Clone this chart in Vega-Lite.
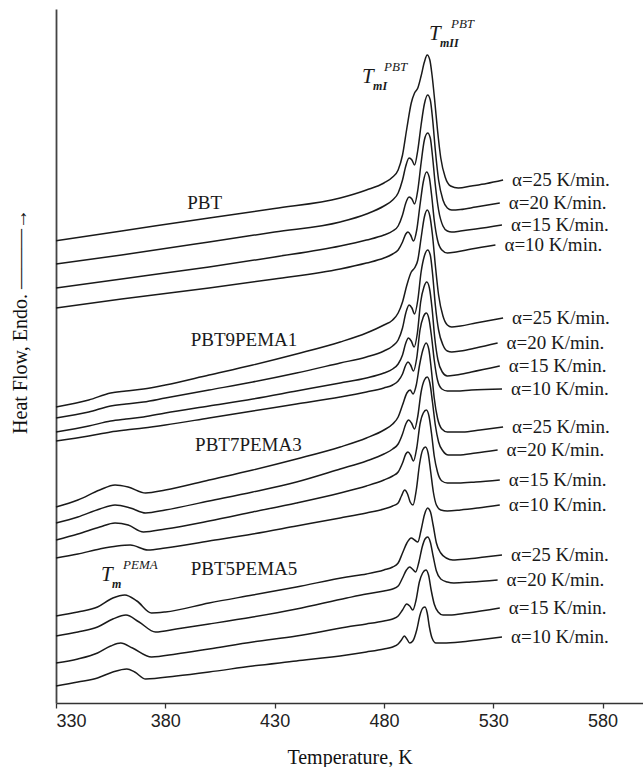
{
  "$schema": "https://vega.github.io/schema/vega-lite/v6.json",
  "width": 587,
  "height": 694,
  "autosize": "none",
  "padding": {"left": 56, "top": 9, "right": 0, "bottom": 64},
  "background": "white",
  "config": {
    "view": {"stroke": null},
    "axis": {"grid": false}
  },
  "datasets": {
    "dsc": [
      {"s":"PBT","r":25,"t":330,"hf":462.3},{"s":"PBT","r":25,"t":360,"hf":472},{"s":"PBT","r":25,"t":400,"hf":485},{"s":"PBT","r":25,"t":430,"hf":494.5},{"s":"PBT","r":25,"t":460,"hf":505},{"s":"PBT","r":25,"t":472,"hf":513},{"s":"PBT","r":25,"t":480,"hf":520},{"s":"PBT","r":25,"t":484,"hf":526},{"s":"PBT","r":25,"t":486.5,"hf":533},{"s":"PBT","r":25,"t":488.5,"hf":548},{"s":"PBT","r":25,"t":490.5,"hf":575},{"s":"PBT","r":25,"t":492.5,"hf":600},{"s":"PBT","r":25,"t":494,"hf":610},{"s":"PBT","r":25,"t":495.5,"hf":615},{"s":"PBT","r":25,"t":497,"hf":627},{"s":"PBT","r":25,"t":498.5,"hf":641},{"s":"PBT","r":25,"t":499.8,"hf":648},{"s":"PBT","r":25,"t":501,"hf":643},{"s":"PBT","r":25,"t":502,"hf":628},{"s":"PBT","r":25,"t":503.2,"hf":603},{"s":"PBT","r":25,"t":504.5,"hf":573},{"s":"PBT","r":25,"t":506,"hf":545},{"s":"PBT","r":25,"t":508,"hf":526},{"s":"PBT","r":25,"t":510.5,"hf":517},{"s":"PBT","r":25,"t":514,"hf":515},{"s":"PBT","r":25,"t":520,"hf":517},{"s":"PBT","r":25,"t":527,"hf":519.5},{"s":"PBT","r":25,"t":534.5,"hf":523},

      {"s":"PBT","r":20,"t":330,"hf":439},{"s":"PBT","r":20,"t":360,"hf":448},{"s":"PBT","r":20,"t":400,"hf":461},{"s":"PBT","r":20,"t":430,"hf":471},{"s":"PBT","r":20,"t":460,"hf":481},{"s":"PBT","r":20,"t":472,"hf":489},{"s":"PBT","r":20,"t":480,"hf":497},{"s":"PBT","r":20,"t":484,"hf":503},{"s":"PBT","r":20,"t":486.5,"hf":510},{"s":"PBT","r":20,"t":488.5,"hf":523},{"s":"PBT","r":20,"t":490,"hf":537},{"s":"PBT","r":20,"t":491.5,"hf":545},{"s":"PBT","r":20,"t":492.8,"hf":543},{"s":"PBT","r":20,"t":494,"hf":538},{"s":"PBT","r":20,"t":495.5,"hf":553},{"s":"PBT","r":20,"t":497,"hf":578},{"s":"PBT","r":20,"t":498.5,"hf":599},{"s":"PBT","r":20,"t":500,"hf":608},{"s":"PBT","r":20,"t":501.2,"hf":603},{"s":"PBT","r":20,"t":502.3,"hf":583},{"s":"PBT","r":20,"t":503.5,"hf":553},{"s":"PBT","r":20,"t":505,"hf":523},{"s":"PBT","r":20,"t":507,"hf":503},{"s":"PBT","r":20,"t":509,"hf":495},{"s":"PBT","r":20,"t":511,"hf":493},{"s":"PBT","r":20,"t":515,"hf":493.5},{"s":"PBT","r":20,"t":522,"hf":496},{"s":"PBT","r":20,"t":533,"hf":500},

      {"s":"PBT","r":15,"t":330,"hf":415},{"s":"PBT","r":15,"t":360,"hf":424},{"s":"PBT","r":15,"t":400,"hf":436},{"s":"PBT","r":15,"t":430,"hf":446},{"s":"PBT","r":15,"t":460,"hf":457},{"s":"PBT","r":15,"t":472,"hf":463},{"s":"PBT","r":15,"t":480,"hf":468},{"s":"PBT","r":15,"t":484,"hf":472},{"s":"PBT","r":15,"t":486.5,"hf":477},{"s":"PBT","r":15,"t":488.5,"hf":488},{"s":"PBT","r":15,"t":490,"hf":500},{"s":"PBT","r":15,"t":491.5,"hf":506},{"s":"PBT","r":15,"t":492.8,"hf":504},{"s":"PBT","r":15,"t":494,"hf":499},{"s":"PBT","r":15,"t":495.5,"hf":513},{"s":"PBT","r":15,"t":497,"hf":540},{"s":"PBT","r":15,"t":498.5,"hf":563},{"s":"PBT","r":15,"t":500,"hf":570},{"s":"PBT","r":15,"t":501.2,"hf":565},{"s":"PBT","r":15,"t":502.3,"hf":545},{"s":"PBT","r":15,"t":503.5,"hf":518},{"s":"PBT","r":15,"t":505,"hf":493},{"s":"PBT","r":15,"t":507,"hf":477},{"s":"PBT","r":15,"t":509,"hf":472},{"s":"PBT","r":15,"t":511,"hf":471},{"s":"PBT","r":15,"t":515,"hf":472},{"s":"PBT","r":15,"t":522,"hf":474},{"s":"PBT","r":15,"t":534,"hf":478},

      {"s":"PBT","r":10,"t":330,"hf":395},{"s":"PBT","r":10,"t":360,"hf":404},{"s":"PBT","r":10,"t":400,"hf":415},{"s":"PBT","r":10,"t":430,"hf":424},{"s":"PBT","r":10,"t":460,"hf":434},{"s":"PBT","r":10,"t":472,"hf":440},{"s":"PBT","r":10,"t":480,"hf":445},{"s":"PBT","r":10,"t":484,"hf":449},{"s":"PBT","r":10,"t":486.5,"hf":453},{"s":"PBT","r":10,"t":488.5,"hf":461},{"s":"PBT","r":10,"t":490,"hf":469},{"s":"PBT","r":10,"t":491,"hf":471},{"s":"PBT","r":10,"t":492.2,"hf":468},{"s":"PBT","r":10,"t":493.5,"hf":462},{"s":"PBT","r":10,"t":495,"hf":473},{"s":"PBT","r":10,"t":496.5,"hf":498},{"s":"PBT","r":10,"t":498,"hf":521},{"s":"PBT","r":10,"t":499.5,"hf":531},{"s":"PBT","r":10,"t":500.7,"hf":526},{"s":"PBT","r":10,"t":501.8,"hf":508},{"s":"PBT","r":10,"t":503,"hf":483},{"s":"PBT","r":10,"t":504.5,"hf":463},{"s":"PBT","r":10,"t":506.5,"hf":453},{"s":"PBT","r":10,"t":509,"hf":450},{"s":"PBT","r":10,"t":513,"hf":451},{"s":"PBT","r":10,"t":520,"hf":454},{"s":"PBT","r":10,"t":531,"hf":458},

      {"s":"PBT9PEMA1","r":25,"t":330,"hf":296},{"s":"PBT9PEMA1","r":25,"t":345,"hf":303},{"s":"PBT9PEMA1","r":25,"t":355,"hf":310},{"s":"PBT9PEMA1","r":25,"t":362,"hf":312},{"s":"PBT9PEMA1","r":25,"t":370,"hf":314},{"s":"PBT9PEMA1","r":25,"t":380,"hf":318},{"s":"PBT9PEMA1","r":25,"t":400,"hf":328},{"s":"PBT9PEMA1","r":25,"t":420,"hf":338},{"s":"PBT9PEMA1","r":25,"t":440,"hf":349},{"s":"PBT9PEMA1","r":25,"t":460,"hf":361},{"s":"PBT9PEMA1","r":25,"t":472,"hf":370},{"s":"PBT9PEMA1","r":25,"t":480,"hf":378},{"s":"PBT9PEMA1","r":25,"t":484,"hf":383},{"s":"PBT9PEMA1","r":25,"t":486.5,"hf":390},{"s":"PBT9PEMA1","r":25,"t":488.5,"hf":401},{"s":"PBT9PEMA1","r":25,"t":490.5,"hf":418},{"s":"PBT9PEMA1","r":25,"t":492.5,"hf":431},{"s":"PBT9PEMA1","r":25,"t":494,"hf":435},{"s":"PBT9PEMA1","r":25,"t":495.5,"hf":443},{"s":"PBT9PEMA1","r":25,"t":497,"hf":465},{"s":"PBT9PEMA1","r":25,"t":498.5,"hf":486},{"s":"PBT9PEMA1","r":25,"t":499.8,"hf":493},{"s":"PBT9PEMA1","r":25,"t":501,"hf":487},{"s":"PBT9PEMA1","r":25,"t":502.2,"hf":468},{"s":"PBT9PEMA1","r":25,"t":503.5,"hf":438},{"s":"PBT9PEMA1","r":25,"t":505,"hf":408},{"s":"PBT9PEMA1","r":25,"t":507,"hf":387},{"s":"PBT9PEMA1","r":25,"t":509,"hf":378},{"s":"PBT9PEMA1","r":25,"t":511,"hf":376},{"s":"PBT9PEMA1","r":25,"t":515,"hf":377},{"s":"PBT9PEMA1","r":25,"t":522,"hf":380},{"s":"PBT9PEMA1","r":25,"t":534.5,"hf":385},

      {"s":"PBT9PEMA1","r":20,"t":330,"hf":285},{"s":"PBT9PEMA1","r":20,"t":345,"hf":291},{"s":"PBT9PEMA1","r":20,"t":355,"hf":297},{"s":"PBT9PEMA1","r":20,"t":362,"hf":299},{"s":"PBT9PEMA1","r":20,"t":370,"hf":301},{"s":"PBT9PEMA1","r":20,"t":380,"hf":305},{"s":"PBT9PEMA1","r":20,"t":400,"hf":313},{"s":"PBT9PEMA1","r":20,"t":420,"hf":321},{"s":"PBT9PEMA1","r":20,"t":440,"hf":330},{"s":"PBT9PEMA1","r":20,"t":460,"hf":340},{"s":"PBT9PEMA1","r":20,"t":472,"hf":346},{"s":"PBT9PEMA1","r":20,"t":480,"hf":352},{"s":"PBT9PEMA1","r":20,"t":484,"hf":357},{"s":"PBT9PEMA1","r":20,"t":486.5,"hf":363},{"s":"PBT9PEMA1","r":20,"t":488.5,"hf":375},{"s":"PBT9PEMA1","r":20,"t":490,"hf":390},{"s":"PBT9PEMA1","r":20,"t":491.5,"hf":398},{"s":"PBT9PEMA1","r":20,"t":492.8,"hf":395},{"s":"PBT9PEMA1","r":20,"t":494,"hf":389},{"s":"PBT9PEMA1","r":20,"t":495.5,"hf":403},{"s":"PBT9PEMA1","r":20,"t":497,"hf":431},{"s":"PBT9PEMA1","r":20,"t":498.5,"hf":447},{"s":"PBT9PEMA1","r":20,"t":500,"hf":453},{"s":"PBT9PEMA1","r":20,"t":501.2,"hf":448},{"s":"PBT9PEMA1","r":20,"t":502.3,"hf":428},{"s":"PBT9PEMA1","r":20,"t":503.5,"hf":398},{"s":"PBT9PEMA1","r":20,"t":505,"hf":373},{"s":"PBT9PEMA1","r":20,"t":507,"hf":358},{"s":"PBT9PEMA1","r":20,"t":509,"hf":352},{"s":"PBT9PEMA1","r":20,"t":511,"hf":351},{"s":"PBT9PEMA1","r":20,"t":515,"hf":352},{"s":"PBT9PEMA1","r":20,"t":522,"hf":355},{"s":"PBT9PEMA1","r":20,"t":532,"hf":360},

      {"s":"PBT9PEMA1","r":15,"t":330,"hf":271},{"s":"PBT9PEMA1","r":15,"t":345,"hf":277},{"s":"PBT9PEMA1","r":15,"t":355,"hf":282},{"s":"PBT9PEMA1","r":15,"t":362,"hf":284},{"s":"PBT9PEMA1","r":15,"t":370,"hf":286},{"s":"PBT9PEMA1","r":15,"t":380,"hf":290},{"s":"PBT9PEMA1","r":15,"t":400,"hf":297},{"s":"PBT9PEMA1","r":15,"t":420,"hf":304},{"s":"PBT9PEMA1","r":15,"t":440,"hf":312},{"s":"PBT9PEMA1","r":15,"t":460,"hf":320},{"s":"PBT9PEMA1","r":15,"t":472,"hf":325},{"s":"PBT9PEMA1","r":15,"t":480,"hf":330},{"s":"PBT9PEMA1","r":15,"t":484,"hf":334},{"s":"PBT9PEMA1","r":15,"t":486.5,"hf":339},{"s":"PBT9PEMA1","r":15,"t":488.5,"hf":348},{"s":"PBT9PEMA1","r":15,"t":490,"hf":360},{"s":"PBT9PEMA1","r":15,"t":491.2,"hf":365},{"s":"PBT9PEMA1","r":15,"t":492.5,"hf":362},{"s":"PBT9PEMA1","r":15,"t":493.8,"hf":356},{"s":"PBT9PEMA1","r":15,"t":495.3,"hf":370},{"s":"PBT9PEMA1","r":15,"t":496.8,"hf":401},{"s":"PBT9PEMA1","r":15,"t":498.3,"hf":416},{"s":"PBT9PEMA1","r":15,"t":499.6,"hf":421},{"s":"PBT9PEMA1","r":15,"t":500.8,"hf":415},{"s":"PBT9PEMA1","r":15,"t":502,"hf":395},{"s":"PBT9PEMA1","r":15,"t":503.2,"hf":366},{"s":"PBT9PEMA1","r":15,"t":504.7,"hf":343},{"s":"PBT9PEMA1","r":15,"t":506.7,"hf":331},{"s":"PBT9PEMA1","r":15,"t":509,"hf":327},{"s":"PBT9PEMA1","r":15,"t":513,"hf":328},{"s":"PBT9PEMA1","r":15,"t":520,"hf":331},{"s":"PBT9PEMA1","r":15,"t":533,"hf":337},

      {"s":"PBT9PEMA1","r":10,"t":330,"hf":262},{"s":"PBT9PEMA1","r":10,"t":345,"hf":267},{"s":"PBT9PEMA1","r":10,"t":355,"hf":271},{"s":"PBT9PEMA1","r":10,"t":362,"hf":273},{"s":"PBT9PEMA1","r":10,"t":370,"hf":275},{"s":"PBT9PEMA1","r":10,"t":380,"hf":278},{"s":"PBT9PEMA1","r":10,"t":400,"hf":285},{"s":"PBT9PEMA1","r":10,"t":420,"hf":292},{"s":"PBT9PEMA1","r":10,"t":440,"hf":299},{"s":"PBT9PEMA1","r":10,"t":460,"hf":306},{"s":"PBT9PEMA1","r":10,"t":472,"hf":311},{"s":"PBT9PEMA1","r":10,"t":480,"hf":315},{"s":"PBT9PEMA1","r":10,"t":484,"hf":318},{"s":"PBT9PEMA1","r":10,"t":486.5,"hf":322},{"s":"PBT9PEMA1","r":10,"t":488.5,"hf":329},{"s":"PBT9PEMA1","r":10,"t":490,"hf":338},{"s":"PBT9PEMA1","r":10,"t":491,"hf":341},{"s":"PBT9PEMA1","r":10,"t":492.2,"hf":338},{"s":"PBT9PEMA1","r":10,"t":493.5,"hf":332},{"s":"PBT9PEMA1","r":10,"t":495,"hf":345},{"s":"PBT9PEMA1","r":10,"t":496.5,"hf":373},{"s":"PBT9PEMA1","r":10,"t":498,"hf":386},{"s":"PBT9PEMA1","r":10,"t":499.4,"hf":390},{"s":"PBT9PEMA1","r":10,"t":500.6,"hf":384},{"s":"PBT9PEMA1","r":10,"t":501.8,"hf":366},{"s":"PBT9PEMA1","r":10,"t":503,"hf":343},{"s":"PBT9PEMA1","r":10,"t":504.5,"hf":323},{"s":"PBT9PEMA1","r":10,"t":506.5,"hf":314},{"s":"PBT9PEMA1","r":10,"t":509,"hf":312},{"s":"PBT9PEMA1","r":10,"t":513,"hf":312},{"s":"PBT9PEMA1","r":10,"t":520,"hf":313},{"s":"PBT9PEMA1","r":10,"t":534,"hf":314},

      {"s":"PBT7PEMA3","r":25,"t":330,"hf":196},{"s":"PBT7PEMA3","r":25,"t":340,"hf":203},{"s":"PBT7PEMA3","r":25,"t":350,"hf":213},{"s":"PBT7PEMA3","r":25,"t":357,"hf":218},{"s":"PBT7PEMA3","r":25,"t":363,"hf":216},{"s":"PBT7PEMA3","r":25,"t":371,"hf":210},{"s":"PBT7PEMA3","r":25,"t":380,"hf":213},{"s":"PBT7PEMA3","r":25,"t":400,"hf":223},{"s":"PBT7PEMA3","r":25,"t":420,"hf":233},{"s":"PBT7PEMA3","r":25,"t":440,"hf":244},{"s":"PBT7PEMA3","r":25,"t":460,"hf":256},{"s":"PBT7PEMA3","r":25,"t":472,"hf":265},{"s":"PBT7PEMA3","r":25,"t":480,"hf":273},{"s":"PBT7PEMA3","r":25,"t":484,"hf":279},{"s":"PBT7PEMA3","r":25,"t":486.5,"hf":286},{"s":"PBT7PEMA3","r":25,"t":488.5,"hf":298},{"s":"PBT7PEMA3","r":25,"t":490.5,"hf":310},{"s":"PBT7PEMA3","r":25,"t":492,"hf":313},{"s":"PBT7PEMA3","r":25,"t":493.3,"hf":309},{"s":"PBT7PEMA3","r":25,"t":494.8,"hf":318},{"s":"PBT7PEMA3","r":25,"t":496.3,"hf":338},{"s":"PBT7PEMA3","r":25,"t":497.8,"hf":353},{"s":"PBT7PEMA3","r":25,"t":499.3,"hf":360},{"s":"PBT7PEMA3","r":25,"t":500.5,"hf":354},{"s":"PBT7PEMA3","r":25,"t":501.7,"hf":333},{"s":"PBT7PEMA3","r":25,"t":503,"hf":305},{"s":"PBT7PEMA3","r":25,"t":504.5,"hf":285},{"s":"PBT7PEMA3","r":25,"t":506.5,"hf":274},{"s":"PBT7PEMA3","r":25,"t":509,"hf":271},{"s":"PBT7PEMA3","r":25,"t":516,"hf":271},{"s":"PBT7PEMA3","r":25,"t":524,"hf":273},{"s":"PBT7PEMA3","r":25,"t":534.5,"hf":276},

      {"s":"PBT7PEMA3","r":20,"t":330,"hf":180},{"s":"PBT7PEMA3","r":20,"t":340,"hf":186},{"s":"PBT7PEMA3","r":20,"t":350,"hf":194},{"s":"PBT7PEMA3","r":20,"t":357,"hf":198},{"s":"PBT7PEMA3","r":20,"t":364,"hf":195},{"s":"PBT7PEMA3","r":20,"t":371,"hf":190},{"s":"PBT7PEMA3","r":20,"t":380,"hf":193},{"s":"PBT7PEMA3","r":20,"t":400,"hf":202},{"s":"PBT7PEMA3","r":20,"t":420,"hf":211},{"s":"PBT7PEMA3","r":20,"t":440,"hf":221},{"s":"PBT7PEMA3","r":20,"t":460,"hf":234},{"s":"PBT7PEMA3","r":20,"t":472,"hf":242},{"s":"PBT7PEMA3","r":20,"t":480,"hf":249},{"s":"PBT7PEMA3","r":20,"t":484,"hf":254},{"s":"PBT7PEMA3","r":20,"t":486.5,"hf":259},{"s":"PBT7PEMA3","r":20,"t":488.5,"hf":269},{"s":"PBT7PEMA3","r":20,"t":490,"hf":279},{"s":"PBT7PEMA3","r":20,"t":491.3,"hf":283},{"s":"PBT7PEMA3","r":20,"t":492.6,"hf":280},{"s":"PBT7PEMA3","r":20,"t":494,"hf":274},{"s":"PBT7PEMA3","r":20,"t":495.5,"hf":287},{"s":"PBT7PEMA3","r":20,"t":497,"hf":311},{"s":"PBT7PEMA3","r":20,"t":498.5,"hf":323},{"s":"PBT7PEMA3","r":20,"t":499.8,"hf":326},{"s":"PBT7PEMA3","r":20,"t":501,"hf":320},{"s":"PBT7PEMA3","r":20,"t":502.2,"hf":301},{"s":"PBT7PEMA3","r":20,"t":503.5,"hf":278},{"s":"PBT7PEMA3","r":20,"t":505,"hf":261},{"s":"PBT7PEMA3","r":20,"t":507,"hf":252},{"s":"PBT7PEMA3","r":20,"t":509.5,"hf":248},{"s":"PBT7PEMA3","r":20,"t":514,"hf":248},{"s":"PBT7PEMA3","r":20,"t":522,"hf":250},{"s":"PBT7PEMA3","r":20,"t":532,"hf":253},

      {"s":"PBT7PEMA3","r":15,"t":330,"hf":163},{"s":"PBT7PEMA3","r":15,"t":340,"hf":169},{"s":"PBT7PEMA3","r":15,"t":350,"hf":176},{"s":"PBT7PEMA3","r":15,"t":357,"hf":180},{"s":"PBT7PEMA3","r":15,"t":363,"hf":178},{"s":"PBT7PEMA3","r":15,"t":370,"hf":171},{"s":"PBT7PEMA3","r":15,"t":380,"hf":174},{"s":"PBT7PEMA3","r":15,"t":400,"hf":182},{"s":"PBT7PEMA3","r":15,"t":420,"hf":191},{"s":"PBT7PEMA3","r":15,"t":440,"hf":200},{"s":"PBT7PEMA3","r":15,"t":460,"hf":210},{"s":"PBT7PEMA3","r":15,"t":472,"hf":217},{"s":"PBT7PEMA3","r":15,"t":480,"hf":223},{"s":"PBT7PEMA3","r":15,"t":484,"hf":227},{"s":"PBT7PEMA3","r":15,"t":486.5,"hf":231},{"s":"PBT7PEMA3","r":15,"t":488.5,"hf":240},{"s":"PBT7PEMA3","r":15,"t":490,"hf":249},{"s":"PBT7PEMA3","r":15,"t":491,"hf":251},{"s":"PBT7PEMA3","r":15,"t":492.2,"hf":248},{"s":"PBT7PEMA3","r":15,"t":493.5,"hf":242},{"s":"PBT7PEMA3","r":15,"t":495,"hf":255},{"s":"PBT7PEMA3","r":15,"t":496.5,"hf":279},{"s":"PBT7PEMA3","r":15,"t":498,"hf":290},{"s":"PBT7PEMA3","r":15,"t":499.4,"hf":293},{"s":"PBT7PEMA3","r":15,"t":500.6,"hf":287},{"s":"PBT7PEMA3","r":15,"t":501.8,"hf":269},{"s":"PBT7PEMA3","r":15,"t":503,"hf":247},{"s":"PBT7PEMA3","r":15,"t":504.5,"hf":231},{"s":"PBT7PEMA3","r":15,"t":506.5,"hf":222},{"s":"PBT7PEMA3","r":15,"t":509,"hf":220},{"s":"PBT7PEMA3","r":15,"t":514,"hf":220},{"s":"PBT7PEMA3","r":15,"t":522,"hf":221},{"s":"PBT7PEMA3","r":15,"t":533,"hf":223},

      {"s":"PBT7PEMA3","r":10,"t":330,"hf":145},{"s":"PBT7PEMA3","r":10,"t":340,"hf":149},{"s":"PBT7PEMA3","r":10,"t":350,"hf":154},{"s":"PBT7PEMA3","r":10,"t":358,"hf":157},{"s":"PBT7PEMA3","r":10,"t":364,"hf":158},{"s":"PBT7PEMA3","r":10,"t":372,"hf":153},{"s":"PBT7PEMA3","r":10,"t":380,"hf":155},{"s":"PBT7PEMA3","r":10,"t":400,"hf":162},{"s":"PBT7PEMA3","r":10,"t":420,"hf":169},{"s":"PBT7PEMA3","r":10,"t":440,"hf":177},{"s":"PBT7PEMA3","r":10,"t":460,"hf":185},{"s":"PBT7PEMA3","r":10,"t":472,"hf":190},{"s":"PBT7PEMA3","r":10,"t":480,"hf":194},{"s":"PBT7PEMA3","r":10,"t":484,"hf":197},{"s":"PBT7PEMA3","r":10,"t":486.5,"hf":200},{"s":"PBT7PEMA3","r":10,"t":488,"hf":207},{"s":"PBT7PEMA3","r":10,"t":489.5,"hf":213},{"s":"PBT7PEMA3","r":10,"t":490.8,"hf":209},{"s":"PBT7PEMA3","r":10,"t":492,"hf":201},{"s":"PBT7PEMA3","r":10,"t":493.3,"hf":198},{"s":"PBT7PEMA3","r":10,"t":494.8,"hf":213},{"s":"PBT7PEMA3","r":10,"t":496.3,"hf":239},{"s":"PBT7PEMA3","r":10,"t":497.7,"hf":253},{"s":"PBT7PEMA3","r":10,"t":499,"hf":256},{"s":"PBT7PEMA3","r":10,"t":500.2,"hf":250},{"s":"PBT7PEMA3","r":10,"t":501.4,"hf":231},{"s":"PBT7PEMA3","r":10,"t":502.6,"hf":211},{"s":"PBT7PEMA3","r":10,"t":504,"hf":198},{"s":"PBT7PEMA3","r":10,"t":506,"hf":193},{"s":"PBT7PEMA3","r":10,"t":509,"hf":192},{"s":"PBT7PEMA3","r":10,"t":515,"hf":193},{"s":"PBT7PEMA3","r":10,"t":523,"hf":195},{"s":"PBT7PEMA3","r":10,"t":533,"hf":198},

      {"s":"PBT5PEMA5","r":25,"t":330,"hf":87},{"s":"PBT5PEMA5","r":25,"t":340,"hf":91},{"s":"PBT5PEMA5","r":25,"t":349,"hf":96},{"s":"PBT5PEMA5","r":25,"t":356,"hf":105},{"s":"PBT5PEMA5","r":25,"t":361.5,"hf":108},{"s":"PBT5PEMA5","r":25,"t":367,"hf":102},{"s":"PBT5PEMA5","r":25,"t":373.7,"hf":90},{"s":"PBT5PEMA5","r":25,"t":380,"hf":91},{"s":"PBT5PEMA5","r":25,"t":400,"hf":100},{"s":"PBT5PEMA5","r":25,"t":420,"hf":108},{"s":"PBT5PEMA5","r":25,"t":440,"hf":116},{"s":"PBT5PEMA5","r":25,"t":463,"hf":126},{"s":"PBT5PEMA5","r":25,"t":472,"hf":129},{"s":"PBT5PEMA5","r":25,"t":480,"hf":133},{"s":"PBT5PEMA5","r":25,"t":484,"hf":136},{"s":"PBT5PEMA5","r":25,"t":486.5,"hf":140},{"s":"PBT5PEMA5","r":25,"t":488.5,"hf":150},{"s":"PBT5PEMA5","r":25,"t":490.5,"hf":160},{"s":"PBT5PEMA5","r":25,"t":492.5,"hf":165},{"s":"PBT5PEMA5","r":25,"t":494,"hf":163},{"s":"PBT5PEMA5","r":25,"t":495.5,"hf":161},{"s":"PBT5PEMA5","r":25,"t":497,"hf":173},{"s":"PBT5PEMA5","r":25,"t":498.5,"hf":188},{"s":"PBT5PEMA5","r":25,"t":500,"hf":195},{"s":"PBT5PEMA5","r":25,"t":501.3,"hf":191},{"s":"PBT5PEMA5","r":25,"t":502.5,"hf":178},{"s":"PBT5PEMA5","r":25,"t":504,"hf":160},{"s":"PBT5PEMA5","r":25,"t":506,"hf":150},{"s":"PBT5PEMA5","r":25,"t":508.5,"hf":145},{"s":"PBT5PEMA5","r":25,"t":511.5,"hf":143},{"s":"PBT5PEMA5","r":25,"t":518,"hf":144},{"s":"PBT5PEMA5","r":25,"t":526,"hf":146},{"s":"PBT5PEMA5","r":25,"t":534,"hf":148},

      {"s":"PBT5PEMA5","r":20,"t":330,"hf":67},{"s":"PBT5PEMA5","r":20,"t":340,"hf":71},{"s":"PBT5PEMA5","r":20,"t":349,"hf":76},{"s":"PBT5PEMA5","r":20,"t":356,"hf":84},{"s":"PBT5PEMA5","r":20,"t":362,"hf":88},{"s":"PBT5PEMA5","r":20,"t":368,"hf":81},{"s":"PBT5PEMA5","r":20,"t":375.5,"hf":71},{"s":"PBT5PEMA5","r":20,"t":385,"hf":74},{"s":"PBT5PEMA5","r":20,"t":400,"hf":79},{"s":"PBT5PEMA5","r":20,"t":420,"hf":86},{"s":"PBT5PEMA5","r":20,"t":440,"hf":94},{"s":"PBT5PEMA5","r":20,"t":463,"hf":105},{"s":"PBT5PEMA5","r":20,"t":472,"hf":109},{"s":"PBT5PEMA5","r":20,"t":480,"hf":112},{"s":"PBT5PEMA5","r":20,"t":484,"hf":114},{"s":"PBT5PEMA5","r":20,"t":486.5,"hf":117},{"s":"PBT5PEMA5","r":20,"t":488.5,"hf":125},{"s":"PBT5PEMA5","r":20,"t":490.3,"hf":133},{"s":"PBT5PEMA5","r":20,"t":491.7,"hf":136},{"s":"PBT5PEMA5","r":20,"t":493,"hf":134},{"s":"PBT5PEMA5","r":20,"t":494.5,"hf":131},{"s":"PBT5PEMA5","r":20,"t":496,"hf":141},{"s":"PBT5PEMA5","r":20,"t":497.5,"hf":156},{"s":"PBT5PEMA5","r":20,"t":498.8,"hf":164},{"s":"PBT5PEMA5","r":20,"t":500,"hf":166},{"s":"PBT5PEMA5","r":20,"t":501.2,"hf":161},{"s":"PBT5PEMA5","r":20,"t":502.5,"hf":147},{"s":"PBT5PEMA5","r":20,"t":504,"hf":132},{"s":"PBT5PEMA5","r":20,"t":506,"hf":124},{"s":"PBT5PEMA5","r":20,"t":509,"hf":121},{"s":"PBT5PEMA5","r":20,"t":512,"hf":120},{"s":"PBT5PEMA5","r":20,"t":520,"hf":121},{"s":"PBT5PEMA5","r":20,"t":532,"hf":123},

      {"s":"PBT5PEMA5","r":15,"t":330,"hf":40},{"s":"PBT5PEMA5","r":15,"t":340,"hf":44},{"s":"PBT5PEMA5","r":15,"t":349,"hf":50},{"s":"PBT5PEMA5","r":15,"t":355,"hf":57},{"s":"PBT5PEMA5","r":15,"t":359.6,"hf":60},{"s":"PBT5PEMA5","r":15,"t":365,"hf":55},{"s":"PBT5PEMA5","r":15,"t":373.7,"hf":46},{"s":"PBT5PEMA5","r":15,"t":385,"hf":49},{"s":"PBT5PEMA5","r":15,"t":400,"hf":54},{"s":"PBT5PEMA5","r":15,"t":420,"hf":61},{"s":"PBT5PEMA5","r":15,"t":440,"hf":67},{"s":"PBT5PEMA5","r":15,"t":463,"hf":76},{"s":"PBT5PEMA5","r":15,"t":472,"hf":79},{"s":"PBT5PEMA5","r":15,"t":480,"hf":82},{"s":"PBT5PEMA5","r":15,"t":484,"hf":84},{"s":"PBT5PEMA5","r":15,"t":486.5,"hf":87},{"s":"PBT5PEMA5","r":15,"t":488.5,"hf":93},{"s":"PBT5PEMA5","r":15,"t":490.4,"hf":99},{"s":"PBT5PEMA5","r":15,"t":491.8,"hf":97},{"s":"PBT5PEMA5","r":15,"t":493.2,"hf":93},{"s":"PBT5PEMA5","r":15,"t":494.7,"hf":103},{"s":"PBT5PEMA5","r":15,"t":496.2,"hf":121},{"s":"PBT5PEMA5","r":15,"t":497.7,"hf":130},{"s":"PBT5PEMA5","r":15,"t":499.2,"hf":133},{"s":"PBT5PEMA5","r":15,"t":500.4,"hf":128},{"s":"PBT5PEMA5","r":15,"t":501.6,"hf":113},{"s":"PBT5PEMA5","r":15,"t":503,"hf":99},{"s":"PBT5PEMA5","r":15,"t":504.8,"hf":91},{"s":"PBT5PEMA5","r":15,"t":507,"hf":88},{"s":"PBT5PEMA5","r":15,"t":510,"hf":88},{"s":"PBT5PEMA5","r":15,"t":518,"hf":90},{"s":"PBT5PEMA5","r":15,"t":533,"hf":95},

      {"s":"PBT5PEMA5","r":10,"t":330,"hf":17},{"s":"PBT5PEMA5","r":10,"t":340,"hf":21},{"s":"PBT5PEMA5","r":10,"t":349,"hf":25},{"s":"PBT5PEMA5","r":10,"t":356,"hf":31},{"s":"PBT5PEMA5","r":10,"t":362.4,"hf":34},{"s":"PBT5PEMA5","r":10,"t":366,"hf":31},{"s":"PBT5PEMA5","r":10,"t":371,"hf":24},{"s":"PBT5PEMA5","r":10,"t":385,"hf":27},{"s":"PBT5PEMA5","r":10,"t":400,"hf":31},{"s":"PBT5PEMA5","r":10,"t":420,"hf":37},{"s":"PBT5PEMA5","r":10,"t":440,"hf":42},{"s":"PBT5PEMA5","r":10,"t":463,"hf":48},{"s":"PBT5PEMA5","r":10,"t":472,"hf":51},{"s":"PBT5PEMA5","r":10,"t":480,"hf":54},{"s":"PBT5PEMA5","r":10,"t":484,"hf":56},{"s":"PBT5PEMA5","r":10,"t":486.5,"hf":59},{"s":"PBT5PEMA5","r":10,"t":488,"hf":63},{"s":"PBT5PEMA5","r":10,"t":489.3,"hf":67},{"s":"PBT5PEMA5","r":10,"t":490.5,"hf":64},{"s":"PBT5PEMA5","r":10,"t":491.8,"hf":60},{"s":"PBT5PEMA5","r":10,"t":493.2,"hf":62},{"s":"PBT5PEMA5","r":10,"t":495,"hf":73},{"s":"PBT5PEMA5","r":10,"t":496.5,"hf":88},{"s":"PBT5PEMA5","r":10,"t":497.8,"hf":95},{"s":"PBT5PEMA5","r":10,"t":498.8,"hf":96},{"s":"PBT5PEMA5","r":10,"t":499.8,"hf":90},{"s":"PBT5PEMA5","r":10,"t":500.8,"hf":76},{"s":"PBT5PEMA5","r":10,"t":502,"hf":65},{"s":"PBT5PEMA5","r":10,"t":503.8,"hf":60},{"s":"PBT5PEMA5","r":10,"t":507,"hf":60},{"s":"PBT5PEMA5","r":10,"t":515,"hf":61},{"s":"PBT5PEMA5","r":10,"t":523,"hf":63},{"s":"PBT5PEMA5","r":10,"t":534,"hf":66}
    ],
    "samples": [
      {"name":"PBT","t":398,"hf":500},
      {"name":"PBT9PEMA1","t":416,"hf":363},
      {"name":"PBT7PEMA3","t":418,"hf":258},
      {"name":"PBT5PEMA5","t":416,"hf":134}
    ],
    "melting": [
      {"sym":"T","sub":"mII","sup":"PBT","t":500.6,"hf":663},
      {"sym":"T","sub":"mI","sup":"PBT","t":470,"hf":620},
      {"sym":"T","sub":"m","sup":"PEMA","t":350.6,"hf":122}
    ]
  },
  "encoding": {
    "x": {
      "field": "t", "type": "quantitative",
      "scale": {"domain": [330, 598.5], "nice": false, "zero": false},
      "axis": {
        "values": [330, 380, 430, 480, 530, 580],
        "title": "Temperature, K",
        "titleFont": "Liberation Serif", "titleFontSize": 20, "titleFontWeight": "normal", "titleColor": "#111",
        "titlePadding": 17,
        "labelFont": "Liberation Sans", "labelFontSize": 18, "labelColor": "#222", "labelPadding": 4,
        "domainColor": "#333", "domainWidth": 1.6,
        "tickColor": "#333", "tickWidth": 1.3, "tickSize": 5
      }
    },
    "y": {
      "field": "hf", "type": "quantitative",
      "scale": {"domain": [0, 694], "nice": false, "zero": false},
      "axis": {
        "title": "Heat Flow, Endo. ———→",
        "titleFont": "Liberation Serif", "titleFontSize": 20, "titleFontWeight": "normal", "titleColor": "#111",
        "titleAnchor": "middle", "titleY": 312, "titleX": -36, "titleBaseline": "middle", "titleAngle": 270,
        "labels": false, "ticks": false,
        "domainColor": "#444", "domainWidth": 1.8
      }
    }
  },
  "layer": [
    {
      "data": {"name": "dsc"},
      "mark": {"type": "line", "interpolate": "monotone", "stroke": "#1a1a1a", "strokeWidth": 1.5},
      "encoding": {
        "detail": [{"field": "s"}, {"field": "r"}],
        "order": {"field": "t", "type": "quantitative"}
      }
    },
    {
      "data": {"name": "dsc"},
      "transform": [
        {"aggregate": [{"op": "argmax", "field": "t", "as": "end"}], "groupby": ["s", "r"]},
        {"calculate": "'α=' + datum.r + ' K/min.'", "as": "rate_label"}
      ],
      "mark": {"type": "text", "align": "left", "baseline": "middle", "dx": 9, "font": "Liberation Serif", "fontSize": 19, "fill": "#1a1a1a"},
      "encoding": {
        "x": {"field": "end.t", "type": "quantitative"},
        "y": {"field": "end.hf", "type": "quantitative"},
        "text": {"field": "rate_label"}
      }
    },
    {
      "data": {"name": "samples"},
      "mark": {"type": "text", "align": "center", "baseline": "middle", "font": "Liberation Serif", "fontSize": 19, "fill": "#1a1a1a"},
      "encoding": {"text": {"field": "name"}}
    },
    {
      "data": {"name": "melting"},
      "mark": {"type": "text", "align": "left", "baseline": "alphabetic", "font": "Liberation Serif", "fontStyle": "italic", "fontSize": 21, "fill": "#1a1a1a"},
      "encoding": {"text": {"field": "sym"}}
    },
    {
      "data": {"name": "melting"},
      "mark": {"type": "text", "align": "left", "baseline": "alphabetic", "dx": 11, "dy": 7, "font": "Liberation Serif", "fontStyle": "italic", "fontWeight": "bold", "fontSize": 12, "fill": "#1a1a1a"},
      "encoding": {"text": {"field": "sub"}}
    },
    {
      "data": {"name": "melting"},
      "mark": {"type": "text", "align": "left", "baseline": "alphabetic", "dx": 22, "dy": -12, "font": "Liberation Serif", "fontStyle": "italic", "fontSize": 13, "fill": "#1a1a1a"},
      "encoding": {"text": {"field": "sup"}}
    },
    {
      "mark": {"type": "rule", "stroke": "#111", "strokeWidth": 2},
      "encoding": {"y": {"datum": 694}}
    }
  ]
}
